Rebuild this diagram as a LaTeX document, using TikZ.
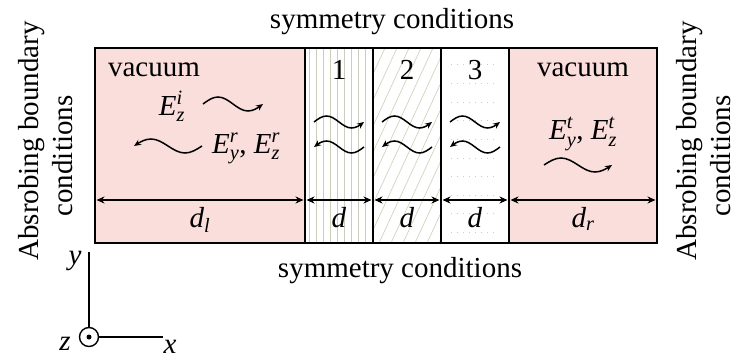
\documentclass[tikz,border=0pt]{standalone}
\usepackage{amsmath}
\usepackage{fontspec}
\setmainfont{Liberation Serif}
\usetikzlibrary{arrows.meta, positioning}
\definecolor{vacpink}{RGB}{249,222,220}
\definecolor{hatchgray}{RGB}{205,205,185}
\newcommand{\fld}[2]{$\textit{E}^{\textit{#2}}_{\textit{#1}}$}

\begin{document}
\begin{tikzpicture}[x=1pt, y=-1pt,
		every node/.style={font=\fontsize{29}{34}\selectfont},
		region/.style={rectangle, draw, line width=1.5pt, minimum height=195pt,
				inner sep=0pt, outer sep=0pt},
		vac/.style={region, fill=vacpink},
		layer/.style={region, fill=white, minimum width=68pt},
		hatch/.style={hatchgray, line width=0.6pt},
		vstripes/.style={path picture={
						\foreach \i in {4,11,...,67}
						\draw[hatch] ([xshift=\i pt]path picture bounding box.south west)
						-- ([xshift=\i pt]path picture bounding box.north west);}},
		dstripes/.style={path picture={
						\foreach \i in {-90,-78,...,70}
						\draw[hatch] ([xshift=\i pt]path picture bounding box.south west) -- ++(90,-195);}},
		dots/.style={path picture={
						\foreach \r in {0,...,9}
						\draw[hatch, line width=1pt, dash pattern=on 1pt off 5pt]
						([xshift=10pt, yshift={-17pt-18.6pt*\r}]path picture bounding box.north west) -- ++(48,0);}},
		dim/.style={{Stealth[length=8pt, width=7pt]}-{Stealth[length=8pt, width=7pt]}, line width=1.2pt,
				shorten <=1.5pt, shorten >=1.5pt},
		fwd/.style={line width=1.5pt, -{Stealth[length=7pt, width=6pt]}},
		bwd/.style={line width=1.5pt, {Stealth[length=7pt, width=6pt]}-},
		axis/.style={line width=1.4pt},
	]
	\useasboundingbox (0,0) rectangle (736,361);

	% slab: vacuum | 1 | 2 | 3 | vacuum
	\node (vacl) [vac, minimum width=210pt] at (200,145.5) {};
	\node (lay1) [layer, vstripes, right=0pt of vacl] {};
	\node (lay2) [layer, dstripes, right=0pt of lay1] {};
	\node (lay3) [layer, dots, right=0pt of lay2] {};
	\node (vacr) [vac, minimum width=148pt, right=0pt of lay3] {};

	\node (symt) at (392,22) {symmetry conditions};
	\node (symb) at (400,271) {symmetry conditions};
	\node (abcl) [rotate=90, align=center] at (46,141) {Absrobing boundary\\conditions\hspace*{30pt}};
	\node (abcr) [rotate=90, align=center] at (704,141) {Absrobing boundary\\conditions\hspace*{30pt}};

	% left vacuum
	\node (vacll) at (154,70) {vacuum};
	\node (einc) at (172,106) {\fld{z}{i}};
	\node (eref) at (246,148) {\fld{y}{r}, \fld{z}{r}};
	\draw[fwd] (203,104) sin ++(15,-7) cos ++(15,7) sin ++(15,7) cos ++(15,-7);
	\draw[bwd] (134,146) sin ++(17,-7) cos ++(17,7) sin ++(17,7) cos ++(17,-7);

	% layers
	\node (num1) at (339,70) {1};
	\node (num2) at (407,70) {2};
	\node (num3) at (475,70) {3};
	\foreach \n in {lay1,lay2,lay3} {
			\draw[fwd] ([xshift=-25pt, yshift=23.5pt]\n.center) sin ++(12.5,-6) cos ++(12.5,6) sin ++(12.5,6) cos ++(12.5,-6);
			\draw[bwd] ([xshift=-25pt, yshift=-1.5pt]\n.center) sin ++(12.5,-6) cos ++(12.5,6) sin ++(12.5,6) cos ++(12.5,-6);
			\draw[dim] ([yshift=-54.5pt]\n.west) -- node[below=3pt]{\textit{d}} ([yshift=-54.5pt]\n.east);
		}

	% right vacuum
	\node (vacrl) at (583,70) {vacuum};
	\node (etra) at (583,134) {\fld{y}{t}, \fld{z}{t}};
	\draw[fwd] (544,165) sin ++(17,-7) cos ++(17,7) sin ++(17,7) cos ++(17,-7);

	\draw[dim] ([yshift=-54.5pt]vacl.west) -- node[below=3pt]{$\textit{d}_{\textit{l}}$} ([yshift=-54.5pt]vacl.east);
	\draw[dim] ([yshift=-54.5pt]vacr.west) -- node[below=3pt]{$\textit{d}_{\textit{r}}$} ([yshift=-54.5pt]vacr.east);

	% axes
	\node (orig) [circle, draw, line width=1.4pt, minimum size=19pt, inner sep=0pt] at (89,337) {};
	\node (odot) [circle, fill, minimum size=5pt, inner sep=0pt] at (orig.center) {};
	\coordinate (ytip) at (89,252);
	\coordinate (xtip) at (163,337);
	\draw[axis] (orig.north) -- (ytip);
	\draw[axis] (orig.east) -- (xtip);
	\node (ylab) at (75,261) {\textit{y}};
	\node (zlab) at (65,344) {\textit{z}};
	\node (xlab) at (170,347) {\textit{x}};
\end{tikzpicture}
\end{document}
